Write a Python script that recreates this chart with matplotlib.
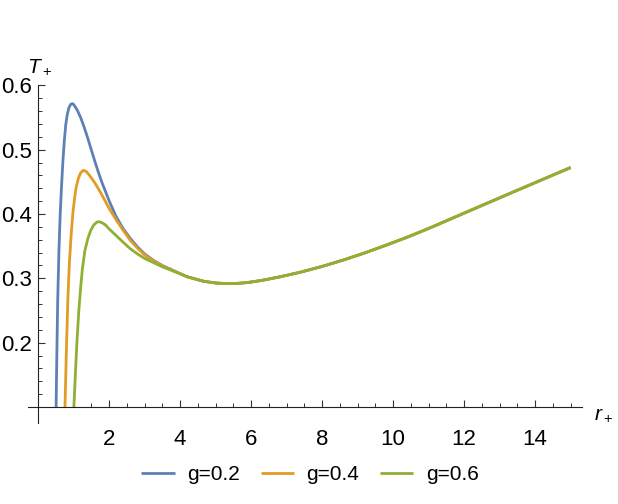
import numpy as np
import matplotlib
matplotlib.use("Agg")
from matplotlib import pyplot as plt
from matplotlib.ticker import FixedLocator

plt.rcParams['font.family'] = ['Liberation Sans', 'DejaVu Sans']
plt.rcParams['mathtext.fontset'] = 'custom'
plt.rcParams['mathtext.it'] = 'Liberation Sans:italic'
plt.rcParams['mathtext.rm'] = 'Liberation Sans'

# values
r_blue = [0.51, 0.53, 0.555, 0.59, 0.625, 0.66, 0.70, 0.74, 0.78, 0.82, 0.87, 0.92, 0.97,
          1.0, 1.1, 1.2, 1.3, 1.4, 1.5, 1.6, 1.7, 1.8, 1.9, 2.0, 2.2, 2.4, 2.6, 2.8, 3.0, 3.25, 3.5, 3.8]
T_blue = [0.10, 0.18, 0.266, 0.344, 0.40, 0.44, 0.481, 0.513, 0.538, 0.5535, 0.565, 0.5705, 0.5715,
          0.5705, 0.562, 0.550, 0.535, 0.518, 0.500, 0.482, 0.465, 0.449, 0.435, 0.421, 0.396, 0.377, 0.362, 0.349, 0.338, 0.328, 0.320, 0.3125]

r_orange = [0.76, 0.80, 0.84, 0.88, 0.93, 0.98, 1.03, 1.08, 1.14, 1.20, 1.28, 1.36, 1.45, 1.55,
            1.65, 1.75, 1.85, 2.0, 2.2, 2.4, 2.6, 2.8, 3.0, 3.25, 3.5, 3.8]
T_orange = [0.10, 0.19, 0.266, 0.32, 0.365, 0.40, 0.425, 0.443, 0.456, 0.464, 0.468, 0.466, 0.460, 0.4525,
            0.444, 0.4345, 0.4245, 0.409, 0.391, 0.3745, 0.359, 0.347, 0.3365, 0.327, 0.3195, 0.312]

r_green = [1.01, 1.06, 1.10, 1.15, 1.20, 1.25, 1.32, 1.40, 1.48, 1.57, 1.66, 1.72, 1.80, 1.90,
           2.0, 2.2, 2.4, 2.6, 2.8, 3.0, 3.25, 3.5, 3.8]
T_green = [0.10, 0.16, 0.205, 0.25, 0.285, 0.315, 0.343, 0.361, 0.374, 0.383, 0.3875, 0.388, 0.3865, 0.383,
           0.377, 0.3665, 0.356, 0.346, 0.338, 0.331, 0.3245, 0.318, 0.3115]

# all three curves share this part
r_tail = [4.2, 4.66, 5.0, 5.3, 5.6, 5.9, 6.3, 6.8, 7.4, 8.0, 8.6, 9.2, 9.8, 10.4, 11.0,
          11.6, 12.2, 12.8, 13.4, 14.0, 14.5, 15.0]
T_tail = [0.3025, 0.2955, 0.2928, 0.2918, 0.2921, 0.2935, 0.2968, 0.3022, 0.3097, 0.3185, 0.3285, 0.3395, 0.3515, 0.364, 0.3775,
          0.3918, 0.4061, 0.4204, 0.4346, 0.4487, 0.4605, 0.4722]

labels = ['g=0.2', 'g=0.4', 'g=0.6']
colors = ['#5E81B5', '#E19C24', '#8FB032']

fig = plt.figure(figsize=(6.18, 5.04), dpi=100)
W, H = 618, 504
# axes box in pixels: x from 28 to 582, y from 85 to 423
ax = fig.add_axes([28 / W, 1 - 423 / H, (582 - 28) / W, (423 - 85) / H])
ax.set_xlim(-0.2817, 15.32)
ax.set_ylim(0.0752, 0.6005)

series = [(r_blue, T_blue), (r_orange, T_orange), (r_green, T_green)]
for (r, T), lab, c in zip(series, labels, colors):
    ax.plot(r + r_tail, T + T_tail, color=c, lw=2.0, label=lab,
            solid_joinstyle='round', solid_capstyle='butt')

for s in ['top', 'right']:
    ax.spines[s].set_visible(False)
ax.spines['left'].set_position(('data', 0))
ax.spines['bottom'].set_position(('data', 0.1))
for s in ['left', 'bottom']:
    ax.spines[s].set_color('#222222')
    ax.spines[s].set_linewidth(0.8)

ax.xaxis.set_major_locator(FixedLocator([2, 4, 6, 8, 10, 12, 14]))
ax.xaxis.set_minor_locator(FixedLocator([v for v in np.arange(0.5, 15.01, 0.5) if v % 2 != 0]))
ax.yaxis.set_major_locator(FixedLocator([0.2, 0.3, 0.4, 0.5, 0.6]))
ax.yaxis.set_minor_locator(FixedLocator([round(0.1 + 0.02 * i, 2) for i in range(1, 25) if i % 5 != 0]))
ax.set_yticklabels(['0.2', '0.3', '0.4', '0.5', '0.6'])

ax.tick_params(axis='x', which='both', direction='in', color='#333333', labelsize=16, pad=16)
ax.tick_params(axis='y', which='both', direction='in', color='#333333', labelsize=16, pad=4)
ax.tick_params(which='major', length=5, width=0.8)
ax.tick_params(which='minor', length=3, width=0.7)

fig.text(27 / W, 1 - 67 / H, r'$T_+$', fontsize=15, ha='left', va='center')
fig.text(594 / W, 1 - 414 / H, r'$r_+$', fontsize=15, ha='left', va='center')

fig.legend(loc='center', bbox_to_anchor=(310 / W, 1 - 475 / H), ncol=3, frameon=False,
           fontsize=15, handlelength=1.6, handletextpad=0.6, columnspacing=1.0)

fig.savefig('out.png', dpi=100)
